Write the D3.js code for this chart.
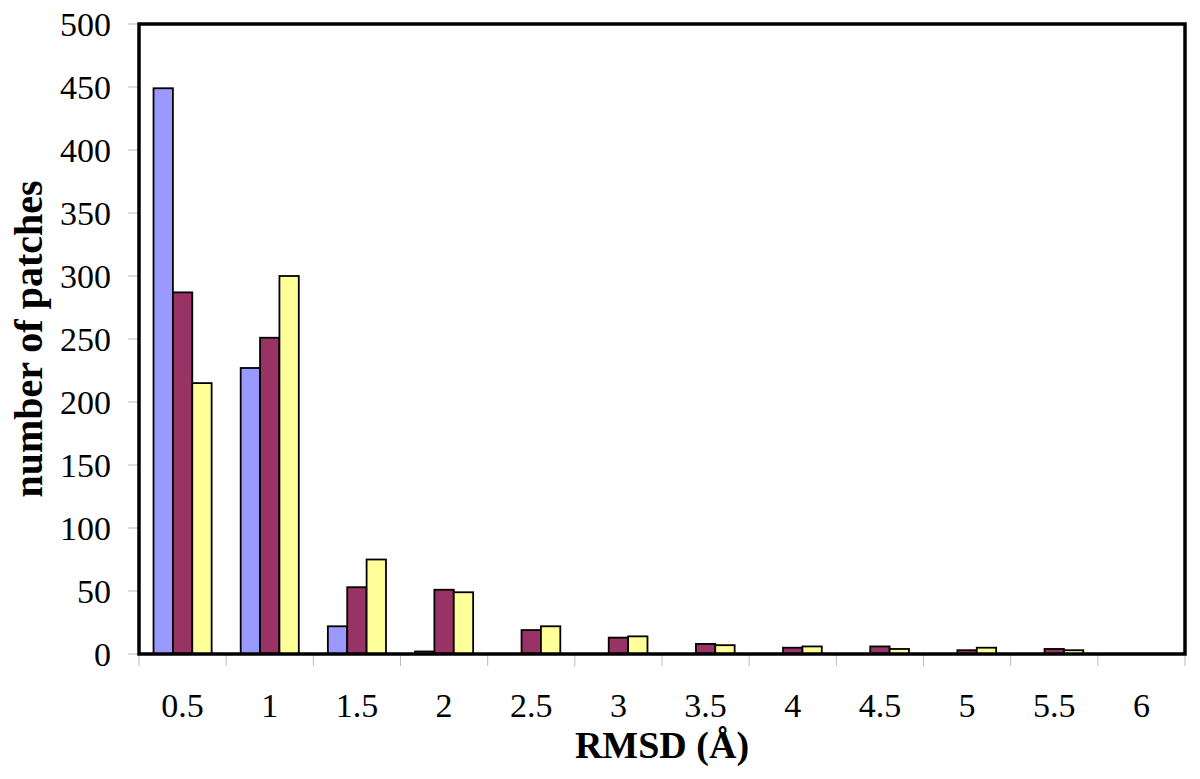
<!DOCTYPE html>
<html><head><meta charset="utf-8">
<script src="https://cdn.jsdelivr.net/npm/d3@7"></script>
<style>body{margin:0;background:#fff}</style>
</head><body>
<svg id="c" width="1200" height="779"></svg>
<script>
const categories = ["0.5","1","1.5","2","2.5","3","3.5","4","4.5","5","5.5","6"];
const seriesA = [449, 227, 22, 2, 0, 0, 0, 0, 0, 0, 0, 0];
const seriesB = [287, 251, 53, 51, 19, 13, 8, 5, 6, 3, 4, 0];
const seriesC = [215, 300, 75, 49, 22, 14, 7, 6, 4, 5, 3, 0];
const seriesNames = ["A","B","C"];
const colors = ["#9999FF","#993366","#FFFF99"];
const yTicks = [0,50,100,150,200,250,300,350,400,450,500];

const svg = d3.select("#c");
const L = 139, R = 1185, T = 24, B = 654;
const x = d3.scaleBand().domain(categories).range([L, R]).paddingInner(0).paddingOuter(0);
const y = d3.scaleLinear().domain([0, 500]).range([B, T]);
const bw = x.bandwidth() / 4.5;
const xs = d3.scaleBand().domain(seriesNames).range([0.75 * bw, 3.75 * bw]);
const series = [seriesA, seriesB, seriesC];

// y ticks (gray)
svg.append("g").selectAll("line").data(yTicks).join("line")
  .attr("x1", L - 11).attr("x2", L).attr("y1", d => y(d)).attr("y2", d => y(d))
  .attr("stroke", "#bbb").attr("stroke-width", 1);
svg.append("g").selectAll("text").data(yTicks).join("text")
  .attr("x", 111).attr("y", d => y(d)).attr("dy", "0.35em")
  .attr("text-anchor", "end").attr("font-family", "Liberation Serif")
  .attr("font-size", 34).text(d => d);

// x ticks (gray, at category boundaries)
const bounds = categories.map(c => x(c)).concat([R]);
svg.append("g").selectAll("line").data(bounds).join("line")
  .attr("x1", d => d).attr("x2", d => d).attr("y1", B).attr("y2", B + 12)
  .attr("stroke", "#bbb").attr("stroke-width", 1);
svg.append("g").selectAll("text").data(categories).join("text")
  .attr("x", d => x(d) + x.bandwidth() / 2).attr("y", 717)
  .attr("text-anchor", "middle").attr("font-family", "Liberation Serif")
  .attr("font-size", 34).text(d => d);

// bars
series.forEach((s, i) => {
  svg.append("g").selectAll("rect").data(s.map((v, j) => ({v, c: categories[j]}))).join("rect")
    .filter(d => d.v > 0)
    .attr("x", d => x(d.c) + xs(seriesNames[i]))
    .attr("width", xs.bandwidth())
    .attr("y", d => y(d.v))
    .attr("height", d => B - y(d.v))
    .attr("fill", colors[i]).attr("stroke", "#000").attr("stroke-width", 1.8);
});

// frame
svg.append("rect").attr("x", L).attr("y", T).attr("width", R - L).attr("height", B - T)
  .attr("fill", "none").attr("stroke", "#000").attr("stroke-width", 3.5);

// titles
svg.append("text").attr("x", (L + R) / 2).attr("y", 758).attr("text-anchor", "middle")
  .attr("font-family", "Liberation Serif").attr("font-weight", "bold").attr("font-size", 38)
  .text("RMSD (Å)");
svg.append("text").attr("transform", `translate(42,${(T + B) / 2}) rotate(-90)`)
  .attr("text-anchor", "middle")
  .attr("font-family", "Liberation Serif").attr("font-weight", "bold").attr("font-size", 40)
  .text("number of patches");
</script>
</body></html>
